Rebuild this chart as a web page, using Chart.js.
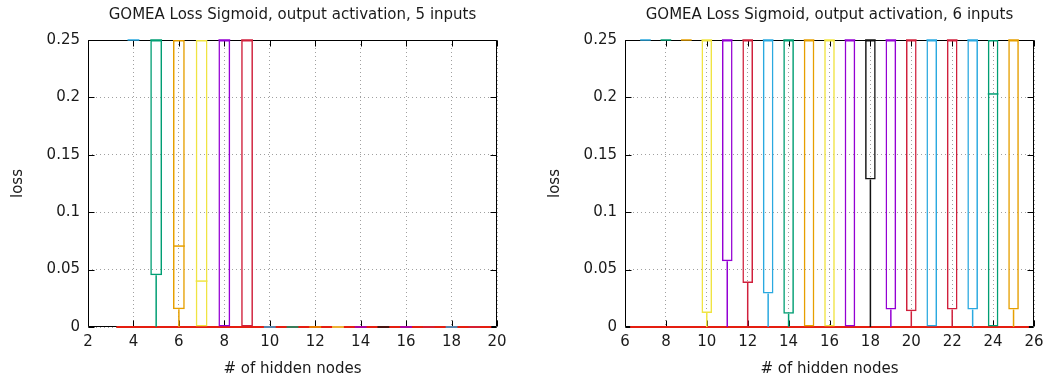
<!DOCTYPE html>
<html>
<head>
<meta charset="utf-8">
<script src="https://cdn.jsdelivr.net/npm/chart.js@4.4.0/dist/chart.umd.min.js"></script>
<style>
    html, body { margin: 0; padding: 0; background: #fff; overflow: hidden; }
    .panel { position: absolute; top: 0; width: 509px; height: 383px; }
    #panel5 { left: 0; }
    #panel6 { left: 537px; }
</style>
</head>
<body>
<div class="panel" id="panel5"><canvas id="chart5" width="509" height="383"></canvas></div>
<div class="panel" id="panel6"><canvas id="chart6" width="509" height="383"></canvas></div>
<script>
// ── Loss per number of hidden nodes (min, quartiles, median, max) ──
// values above 0.25 are cut at the top of the plot

const hiddenNodes5 = [4, 5, 6, 7, 8, 9, 10, 11, 12, 13, 14, 15, 16, 17, 18, 19];
const lossMin5     = [0.25, 0, 0, 0, 0, 0, 0, 0, 0, 0, 0, 0, 0, 0, 0, 0];
const lossQ1_5     = [0.25, 0.045, 0.0155, 0, 0, 0, 0, 0, 0, 0, 0, 0, 0, 0, 0, 0];
const lossMedian5  = [0.25, 0.25, 0.0705, 0.040, 0.25, 0.25, 0, 0, 0, 0, 0, 0, 0, 0, 0, 0];
const lossQ3_5     = [0.25, 0.25, 0.25, 0.25, 0.25, 0.25, 0, 0, 0, 0, 0, 0, 0, 0, 0, 0];
const lossMax5     = [0.25, 0.25, 0.25, 0.25, 0.25, 0.25, 0, 0, 0, 0, 0, 0, 0, 0, 0, 0];

const hiddenNodes6 = [7, 8, 9, 10, 11, 12, 13, 14, 15, 16, 17, 18, 19, 20, 21, 22, 23, 24, 25];
const lossMin6     = [0.25, 0.25, 0.25, 0, 0, 0, 0, 0, 0, 0, 0, 0, 0, 0, 0, 0, 0, 0, 0];
const lossQ1_6     = [0.25, 0.25, 0.25, 0.0122, 0.0573, 0.0384, 0.0291, 0.0116, 0, 0, 0, 0.1285, 0.0152, 0.0137, 0, 0.0152, 0.0152, 0, 0.0152];
const lossMedian6  = [0.25, 0.25, 0.25, 0.25, 0.25, 0.25, 0.25, 0.25, 0.25, 0.25, 0.25, 0.25, 0.25, 0.25, 0.25, 0.25, 0.25, 0.203, 0.25];
const lossQ3_6     = [0.25, 0.25, 0.25, 0.25, 0.25, 0.25, 0.25, 0.25, 0.25, 0.25, 0.25, 0.25, 0.25, 0.25, 0.25, 0.25, 0.25, 0.25, 0.25];
const lossMax6     = [0.25, 0.25, 0.25, 0.25, 0.25, 0.25, 0.25, 0.25, 0.25, 0.25, 0.25, 0.25, 0.25, 0.25, 0.25, 0.25, 0.25, 0.25, 0.25];

const lossTicks  = [0, 0.05, 0.1, 0.15, 0.2, 0.25];
const nodeTicks5 = [2, 4, 6, 8, 10, 12, 14, 16, 18, 20];
const nodeTicks6 = [6, 8, 10, 12, 14, 16, 18, 20, 22, 24, 26];

// ── Colours ──────────────────────────────────────────────────

const C = {
    sky:     '#2aa9e0',
    green:   '#009e73',
    orange:  '#e69f00',
    yellow:  '#f0e442',
    purple:  '#9400d3',
    crimson: '#d0203c',
    black:   '#111111',
    red:     '#e51e10',
};

const boxColors5 = [C.sky, C.green, C.orange, C.yellow, C.purple, C.crimson, C.sky, C.green,
                    C.orange, C.yellow, C.purple, C.black, C.purple, C.crimson, C.sky, C.crimson];
const boxColors6 = [C.sky, C.green, C.orange, C.yellow, C.purple, C.crimson, C.sky, C.green,
                    C.orange, C.yellow, C.purple, C.black, C.purple, C.crimson, C.sky, C.crimson,
                    C.sky, C.green, C.orange];

const BOX_WIDTH = 0.52;
const FONT = { family: 'DejaVu Sans', size: 15 };

Chart.defaults.font = { ...Chart.defaults.font, ...FONT };
Chart.defaults.color = '#1a1a1a';

// ── Helpers ──────────────────────────────────────────────────

function boxPoints(nodes, q1, q3) {
    return nodes.map((n, i) => ({ x: n, y: [q1[i], q3[i]] }));
}

// short horizontal strokes across each box, separated by gaps
function medianPoints(nodes, median) {
    const pts = [];
    nodes.forEach((n, i) => {
        pts.push({ x: n - BOX_WIDTH / 2, y: median[i] });
        pts.push({ x: n + BOX_WIDTH / 2, y: median[i] });
        pts.push({ x: n, y: null });
    });
    return pts;
}

// lower and upper whiskers of each box
function whiskerPoints(nodes, min, q1, q3, max) {
    const pts = [];
    nodes.forEach((n, i) => {
        pts.push({ x: n, y: min[i] }, { x: n, y: q1[i] }, { x: n, y: null });
        pts.push({ x: n, y: q3[i] }, { x: n, y: max[i] }, { x: n, y: null });
    });
    return pts;
}

// frame round the plot area with inward tick marks
const framePlugin = {
    id: 'frame',
    beforeDatasetsDraw(chart) {
        const { ctx, chartArea: a, scales: { x, y } } = chart;
        const L = Math.round(a.left) + 0.5, R = Math.round(a.right) - 0.5;
        const T = Math.round(a.top) + 0.5,  B = Math.round(a.bottom) - 0.5;
        const len = 6;
        ctx.save();
        ctx.strokeStyle = '#000';
        ctx.lineWidth = 1;
        ctx.beginPath();
        ctx.rect(L, T, R - L, B - T);
        x.ticks.forEach(t => {
            const px = Math.round(x.getPixelForValue(t.value)) + 0.5;
            ctx.moveTo(px, B); ctx.lineTo(px, B - len);
            ctx.moveTo(px, T); ctx.lineTo(px, T + len);
        });
        y.ticks.forEach(t => {
            const py = Math.round(y.getPixelForValue(t.value)) + 0.5;
            ctx.moveTo(L, py); ctx.lineTo(L + len, py);
            ctx.moveTo(R, py); ctx.lineTo(R - len, py);
        });
        ctx.stroke();
        ctx.restore();
    },
};

function renderPanel(canvasId, title, nodes, stats, colors, nodeTicks) {
    const [min, q1, median, q3, max] = stats;
    const first = nodes[0], last = nodes[nodes.length - 1];

    new Chart(document.getElementById(canvasId), {
        type: 'bar',
        data: {
            datasets: [
                {
                    type: 'line',
                    data: [{ x: first - 0.75, y: 0 }, { x: last + 0.75, y: 0 }],
                    borderColor: C.red,
                    borderWidth: 2,
                    pointRadius: 0,
                    order: 3,
                },
                {
                    type: 'bar',
                    data: boxPoints(nodes, q1, q3),
                    backgroundColor: 'rgba(0,0,0,0)',
                    borderColor: colors,
                    borderWidth: 1.5,
                    borderSkipped: false,
                    grouped: false,
                    barPercentage: BOX_WIDTH,
                    categoryPercentage: 1,
                    order: 2,
                },
                {
                    type: 'line',
                    data: whiskerPoints(nodes, min, q1, q3, max),
                    borderColor: colors[0],
                    segment: { borderColor: ctx => colors[Math.floor(ctx.p0DataIndex / 6)] },
                    borderWidth: 1.5,
                    borderCapStyle: 'butt',
                    pointRadius: 0,
                    spanGaps: false,
                    order: 1,
                },
                {
                    type: 'line',
                    data: medianPoints(nodes, median),
                    borderColor: colors[0],
                    segment: { borderColor: ctx => colors[Math.floor(ctx.p0DataIndex / 3)] },
                    borderWidth: 1.5,
                    borderCapStyle: 'butt',
                    pointRadius: 0,
                    spanGaps: false,
                    order: 1,
                },
            ],
        },
        options: {
            responsive: false,
            animation: false,
            events: [],
            clip: 2,
            layout: { padding: { left: 0, right: 12, top: 0, bottom: 0 } },
            plugins: {
                legend: { display: false },
                tooltip: { enabled: false },
                title: {
                    display: true,
                    text: title,
                    fullSize: false,
                    color: '#1a1a1a',
                    font: { ...FONT, weight: 'normal' },
                    padding: { top: 6, bottom: 16 },
                },
            },
            scales: {
                x: {
                    type: 'linear',
                    min: nodeTicks[0],
                    max: nodeTicks[nodeTicks.length - 1],
                    offset: false,
                    afterBuildTicks: s => { s.ticks = nodeTicks.map(v => ({ value: v })); },
                    afterFit: s => { s.height = 56; s.paddingLeft = 0; s.paddingRight = 0; },
                    grid: { color: '#a0a0a0', lineWidth: 1, drawTicks: false, offset: false },
                    border: { display: false, dash: [1, 3] },
                    ticks: { padding: 6, maxRotation: 0, callback: v => String(v) },
                    title: { display: true, text: '# of hidden nodes', padding: { top: 0, bottom: 5 } },
                },
                y: {
                    min: lossTicks[0],
                    max: lossTicks[lossTicks.length - 1],
                    afterBuildTicks: s => { s.ticks = lossTicks.map(v => ({ value: v })); },
                    afterFit: s => { s.width = 88; },
                    grid: { color: '#a0a0a0', lineWidth: 1, drawTicks: false },
                    border: { display: false, dash: [1, 3] },
                    ticks: { padding: 8, callback: v => String(v) },
                    title: { display: true, text: 'loss', padding: { top: 9, bottom: 0 } },
                },
            },
        },
        plugins: [framePlugin],
    });
}

renderPanel('chart5', 'GOMEA Loss Sigmoid, output activation, 5 inputs', hiddenNodes5,
            [lossMin5, lossQ1_5, lossMedian5, lossQ3_5, lossMax5], boxColors5, nodeTicks5);
renderPanel('chart6', 'GOMEA Loss Sigmoid, output activation, 6 inputs', hiddenNodes6,
            [lossMin6, lossQ1_6, lossMedian6, lossQ3_6, lossMax6], boxColors6, nodeTicks6);
</script>
</body>
</html>
